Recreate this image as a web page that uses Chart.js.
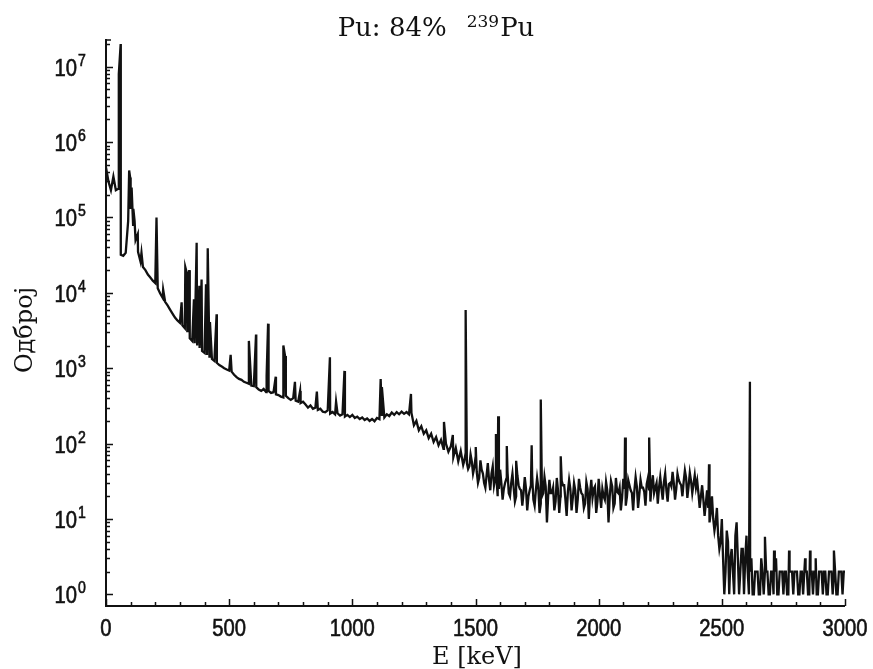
<!DOCTYPE html>
<html>
<head>
<meta charset="utf-8">
<title>Pu spectrum</title>
<script src="https://cdn.jsdelivr.net/npm/chart.js@4/dist/chart.umd.min.js"></script>
<style>
  html, body { margin: 0; padding: 0; background: #fff; }
  #wrap { width: 873px; height: 669px; }
</style>
</head>
<body>
<div id="wrap"><canvas id="spectrum" width="873" height="669"></canvas></div>
<script>
// Spectrum background, one value per 10 keV bin (0 ... 3000 keV)
const binWidth = 10;
const bgCounts = [
  460000, 300000, 230000, 350000, 230000, 240000, 32000, 31000, 34000, 90000,   // 0-90
  130000, 80000, 50000, 35000, 26000, 22000, 20000, 17500, 16000, 14500,        // 100-190
  13500, 11500, 9800, 8600, 7600, 6800, 6000, 5300, 4700, 4300,                 // 200-290
  4000, 3700, 3400, 3100, 2500, 2300, 2150, 2000, 1850, 1700,                   // 300-390
  1600, 1500, 1420, 1330, 1250, 1180, 1100, 1050, 1000, 960,                    // 400-490
  930, 900, 820, 760, 720, 700, 660, 640, 620, 590,                             // 500-590
  580, 560, 520, 500, 530, 480, 500, 470, 480, 450,                             // 600-690
  440, 420, 410, 430, 400, 380, 400, 370, 360, 345,                             // 700-790
  360, 330, 300, 320, 290, 300, 280, 290, 265, 260,                             // 800-890
  275, 250, 262, 245, 252, 235, 245, 228, 240, 225,                             // 900-990
  240, 218, 228, 212, 222, 205, 215, 200, 212, 198,                             // 1000-1090
  218, 210, 232, 222, 245, 232, 258, 240, 262, 245,                             // 1100-1190
  265, 248, 262, 244, 255, 175, 200, 150, 170, 135,                             // 1200-1290
  150, 118, 135, 105, 122, 95, 112, 85, 100, 78,                                // 1300-1390
  92, 66, 88, 58, 80, 52, 75, 46, 72, 40,                                       // 1400-1490
  65, 30, 60, 40, 26, 55, 24, 50, 35, 20,                                       // 1500-1590
  45, 18, 30, 42, 20, 40, 17, 38, 25, 15,                                       // 1600-1690
  36, 13, 24, 38, 15, 35, 12, 20, 36, 9,                                        // 1700-1790
  33, 22, 13, 35, 12, 32, 28, 11, 33, 13,                                       // 1800-1890
  30, 12, 34, 22, 14, 31, 10, 33, 25, 12,                                       // 1900-1990
  34, 14, 20, 31, 9, 32, 14, 35, 22, 13,                                        // 2000-2090
  34, 15, 33, 24, 13, 36, 14, 33, 26, 15,                                       // 2100-2190
  35, 17, 38, 26, 16, 36, 18, 40, 17, 30,                                       // 2200-2290
  42, 18, 40, 30, 20, 44, 19, 41, 22, 38,                                       // 2300-2390
  32, 14, 28, 11, 24, 9, 20, 7, 14, 4,                                          // 2400-2490
  10, 1, 7, 1, 4, 1, 9, 1, 4, 1,                                                // 2500-2590
  6, 1, 3, 1, 2, 1, 3, 1, 2, 1,                                                 // 2600-2690
  2, 1, 3, 1, 2, 1, 2, 1, 2, 1,                                                 // 2700-2790
  2, 1, 2, 1, 2, 1, 2, 1, 2, 1,                                                 // 2800-2890
  2, 1, 2, 1, 2, 1, 2, 1, 2, 1,                                                 // 2900-2990
  2                                                                             // 3000
];

// Extra in-between bins (1455, 1465 ... 2995 keV) for the noisy high-energy part
const halfBinStart = 1455;
const halfBinCounts = [
  60, 55, 50, 58, 48,                                 // 1455-1495
  42, 35, 45, 30, 38, 33, 40, 28, 35, 25,             // 1505-1595
  30, 25, 34, 22, 30, 26, 20, 28, 24, 22,             // 1605-1695
  25, 20, 28, 18, 24, 26, 16, 22, 27, 20,             // 1705-1795
  22, 26, 17, 24, 20, 28, 18, 23, 25, 19,             // 1805-1895
  24, 18, 26, 21, 16, 25, 22, 19, 27, 17,             // 1905-1995
  21, 25, 18, 24, 20, 27, 16, 23, 26, 19,             // 2005-2095
  25, 20, 28, 22, 24, 27, 21, 26, 23, 29,             // 2105-2195
  24, 28, 22, 30, 26, 25, 31, 24, 29, 27,             // 2205-2295
  30, 25, 33, 28, 31, 35, 27, 32, 29, 26,             // 2305-2395
  22, 20, 18, 16, 14, 12, 10, 9, 6, 5,                // 2405-2495
  3, 2, 5, 3, 2, 6, 3, 2, 4, 3,                       // 2505-2595
  2, 2, 1, 2, 2, 1, 2, 2, 2, 1,                       // 2605-2695
  2, 2, 1, 2, 2, 2, 1, 2, 2, 2,                       // 2705-2795
  2, 1, 2, 2, 2, 1, 2, 2, 1, 2,                       // 2805-2895
  2, 2, 1, 2, 2, 2, 1, 2, 2, 2                        // 2905-2995
];

// Peaks: energy [keV] and top count
const peakEnergy = [
  52, 59.5, 94, 98, 104, 111, 116, 129, 144, 205,
  232, 307, 322, 327, 332, 338, 357, 368, 379, 388,
  406, 413, 422, 449, 506, 580, 609, 652, 658, 689,
  720, 727, 767, 788, 856, 909, 934, 968, 1115, 1120,
  1238, 1372, 1408, 1460, 1501, 1583, 1592, 1627, 1665, 1728,
  1765, 1846, 2107, 2205, 2448, 2614, 2675, 2712, 2773, 2838,
  2858, 2881, 2955
];
const peakCounts = [
  8.0e6, 2.0e7, 4.2e5, 3.4e5, 2.5e5, 1.3e5, 9.0e4, 6.0e4, 3.4e4, 1.0e5,
  1.1e4, 7.5e3, 2.2e4, 1.9e4, 1.5e4, 2.0e4, 8.2e3, 4.6e4, 1.24e4, 1.5e4,
  1.3e4, 3.9e4, 4.1e3, 5.2e3, 1.5e3, 2.3e3, 2.8e3, 790, 3.9e3, 770,
  2.0e3, 1.45e3, 660, 500, 490, 1.4e3, 360, 920, 720, 560,
  455, 194, 130, 5.9e3, 90, 134, 231, 93, 59, 95,
  385, 68, 120, 120, 53, 660, 5.8, 3.8, 3.8, 3.0,
  3.8, 3.0, 3.8
];

// Axis ticks
const xMajorTicks = [0, 500, 1000, 1500, 2000, 2500, 3000];
const yDecades = [0, 1, 2, 3, 4, 5, 6, 7];

const yMin = 0.7375;
const yMax = 2.33e7;

// merge background bins, in-between bins and peak tops into one sorted line
const points = bgCounts.map((c, i) => ({ x: i * binWidth, y: c }));
halfBinCounts.forEach((c, i) => points.push({ x: halfBinStart + i * binWidth, y: c }));
peakEnergy.forEach((e, i) => points.push({ x: e, y: peakCounts[i] }));
points.sort((a, b) => a.x - b.x);

const INK = '#111';

function drawSup(ctx, x, y, base, sup) {
  ctx.save();
  ctx.translate(x, y);
  ctx.scale(0.88, 1);
  ctx.lineWidth = 0.6;
  ctx.font = '23px "Liberation Sans", Arial, sans-serif';
  ctx.textAlign = 'right';
  ctx.textBaseline = 'alphabetic';
  ctx.fillText(base, 0, 9);
  ctx.strokeText(base, 0, 9);
  ctx.font = '16px "Liberation Sans", Arial, sans-serif';
  ctx.textAlign = 'left';
  ctx.fillText(sup, 1, -1);
  ctx.strokeText(sup, 1, -1);
  ctx.restore();
}

// Axes, ticks and texts drawn by hand (inward ticks, 10^n labels)
const axesPlugin = {
  id: 'axesPlugin',
  afterDraw(chart) {
    const ctx = chart.ctx;
    const xs = chart.scales.x;
    const ys = chart.scales.y;
    const { left, right, top, bottom } = chart.chartArea;

    ctx.save();
    ctx.strokeStyle = INK;
    ctx.fillStyle = INK;
    ctx.lineWidth = 2;
    ctx.beginPath();
    ctx.moveTo(left, top);
    ctx.lineTo(left, bottom);
    ctx.lineTo(right, bottom);
    ctx.stroke();

    // y ticks
    ctx.lineWidth = 1.5;
    ctx.beginPath();
    yDecades.forEach(k => {
      for (let m = 1; m <= 9; m++) {
        const v = m * Math.pow(10, k);
        if (v > yMax || v < yMin) continue;
        const py = Math.round(ys.getPixelForValue(v)) + 0.5;
        ctx.moveTo(left, py);
        ctx.lineTo(left + (m === 1 ? 7 : 4), py);
      }
    });
    ctx.moveTo(left, top + 1);
    ctx.lineTo(left + 5, top + 1);
    // x ticks
    for (let e = 0; e <= 3000; e += 100) {
      const px = Math.round(xs.getPixelForValue(e)) + 0.5;
      ctx.moveTo(px, bottom);
      ctx.lineTo(px, bottom - (e % 500 === 0 ? 7 : 4));
    }
    ctx.stroke();

    // y labels
    yDecades.forEach(k => {
      const py = ys.getPixelForValue(Math.pow(10, k));
      drawSup(ctx, 77, py, '10', String(k));
    });

    // x labels
    xMajorTicks.forEach(e => {
      const px = xs.getPixelForValue(e);
      ctx.save();
      ctx.translate(px, 636);
      ctx.scale(0.88, 1);
      ctx.lineWidth = 0.6;
      ctx.font = '23px "Liberation Sans", Arial, sans-serif';
      ctx.textAlign = 'center';
      ctx.textBaseline = 'alphabetic';
      ctx.fillText(String(e), 0, 0);
      ctx.strokeText(String(e), 0, 0);
      ctx.restore();
    });

    // axis titles
    ctx.font = '24px "DejaVu Serif", serif';
    ctx.textAlign = 'center';
    ctx.textBaseline = 'alphabetic';
    ctx.fillText('E [keV]', 477, 664);

    ctx.save();
    ctx.translate(32, 330);
    ctx.rotate(-Math.PI / 2);
    ctx.fillText('Одброј', 0, 0);
    ctx.restore();

    // title: Pu: 84%  ^239Pu
    const bigFont = '26px "DejaVu Serif", serif';
    const smallFont = '17px "DejaVu Serif", serif';
    ctx.textAlign = 'left';
    ctx.font = bigFont;
    const t1 = 'Pu: 84%';
    const w1 = ctx.measureText(t1).width;
    const w3 = ctx.measureText('Pu').width;
    ctx.font = smallFont;
    const w2 = ctx.measureText('239').width;
    const gap = 20;
    const total = w1 + gap + w2 + 1 + w3;
    let tx = 436 - total / 2;
    ctx.font = bigFont;
    ctx.fillText(t1, tx, 36);
    tx += w1 + gap;
    ctx.font = smallFont;
    ctx.fillText('239', tx, 27);
    tx += w2 + 1;
    ctx.font = bigFont;
    ctx.fillText('Pu', tx, 36);

    ctx.restore();
  }
};

new Chart(document.getElementById('spectrum'), {
  type: 'line',
  data: {
    datasets: [{
      data: points,
      borderColor: INK,
      borderWidth: 2.3,
      pointRadius: 0,
      tension: 0,
      fill: false
    }]
  },
  options: {
    responsive: false,
    animation: false,
    devicePixelRatio: 1,
    layout: { padding: { left: 106, right: 28, top: 39, bottom: 63 } },
    plugins: {
      legend: { display: false },
      tooltip: { enabled: false },
      title: { display: false }
    },
    scales: {
      x: { type: 'linear', min: 0, max: 3000, display: false },
      y: { type: 'logarithmic', min: yMin, max: yMax, display: false }
    }
  },
  plugins: [axesPlugin]
});
</script>
</body>
</html>
